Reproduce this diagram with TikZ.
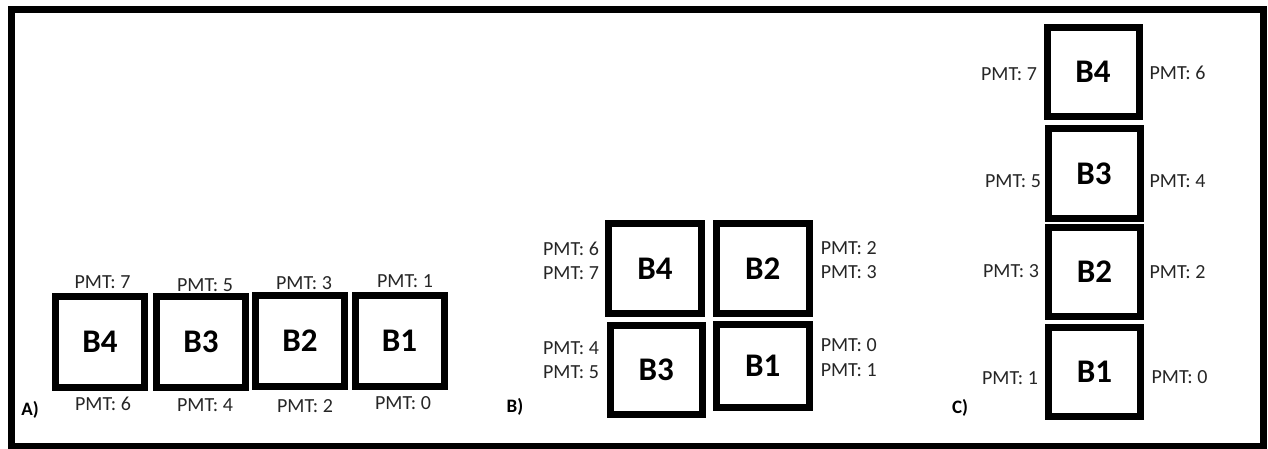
\documentclass[tikz,border=0pt]{standalone}
\usepackage{fontspec}
\setmainfont{Carlito}
\begin{document}
\begin{tikzpicture}[x=1pt,y=-1pt,
  blk/.style={draw=black, fill=white, line width=7pt, inner sep=0pt,
    font=\fontsize{33}{36}\selectfont\bfseries},
  boxA/.style={blk, minimum width=89pt, minimum height=91pt},
  boxB/.style={blk, minimum width=93pt, minimum height=90pt},
  boxC/.style={blk, minimum width=92pt, minimum height=89pt},
  pmt/.style={inner sep=0pt, text=black!85, font=\fontsize{20}{22}\selectfont},
  tag/.style={inner sep=0pt, font=\fontsize{19}{21}\selectfont\bfseries}]
\useasboundingbox (0,0) rectangle (1268,449);
% outer frame
\draw[line width=7pt] (11,9.5) rectangle (1263,446);

% ---- A) boards in a row ----
\node[boxA] (a4) at (100,341.5) {B4};
\node[boxA] (a3) at (201,342) {B3};
\node[boxA] (a2) at (300,341) {B2};
\node[boxA] (a1) at (399.5,341) {B1};
\node[pmt] (a7) at (102.5,282) {PMT: 7};
\node[pmt] (a5) at (205,285) {PMT: 5};
\node[pmt] (a3t) at (304,283) {PMT: 3};
\node[pmt] (a1t) at (405,281) {PMT: 1};
\node[pmt] (a6) at (103,404) {PMT: 6};
\node[pmt] (a4b) at (205,405) {PMT: 4};
\node[pmt] (a2b) at (305,406) {PMT: 2};
\node[pmt] (a0) at (403,403) {PMT: 0};
\node[tag] (ta) at (30,410) {A)};

% ---- B) boards in a 2x2 block ----
\node[boxB] (b4) at (655,268.3) {B4};
\node[boxB] (b2) at (762.7,268.3) {B2};
\node[boxB, minimum width=92pt, minimum height=89pt] (b3) at (656.3,369.5) {B3};
\node[boxB, minimum height=83pt] (b1) at (762.7,365.7) {B1};
\node[pmt] (b6) at (571,249.3) {PMT: 6};
\node[pmt] (b7) at (571,272.7) {PMT: 7};
\node[pmt] (b4l) at (571,348.3) {PMT: 4};
\node[pmt] (b5) at (571,371.7) {PMT: 5};
\node[pmt] (b2r) at (848.7,248) {PMT: 2};
\node[pmt] (b3r) at (848.7,272) {PMT: 3};
\node[pmt] (b0) at (848.7,345) {PMT: 0};
\node[pmt] (b1r) at (848.7,370) {PMT: 1};
\node[tag] (tb) at (515,407) {B)};

% ---- C) boards in a column ----
\node[boxC] (c4) at (1093,71.7) {B4};
\node[boxC] (c3) at (1094,173.5) {B3};
\node[boxC] (c2) at (1094.5,272) {B2};
\node[boxC] (c1) at (1094.5,372) {B1};
\node[pmt] (c7) at (1009,74) {PMT: 7};
\node[pmt] (c5) at (1013,181) {PMT: 5};
\node[pmt] (c3l) at (1011,270.7) {PMT: 3};
\node[pmt] (c1l) at (1010,378.3) {PMT: 1};
\node[pmt] (c6) at (1177.5,72.7) {PMT: 6};
\node[pmt] (c4r) at (1177.5,181) {PMT: 4};
\node[pmt] (c2r) at (1177.5,271.7) {PMT: 2};
\node[pmt] (c0) at (1179.5,377.3) {PMT: 0};
\node[tag] (tc) at (960,408.3) {C)};
\end{tikzpicture}
\end{document}
